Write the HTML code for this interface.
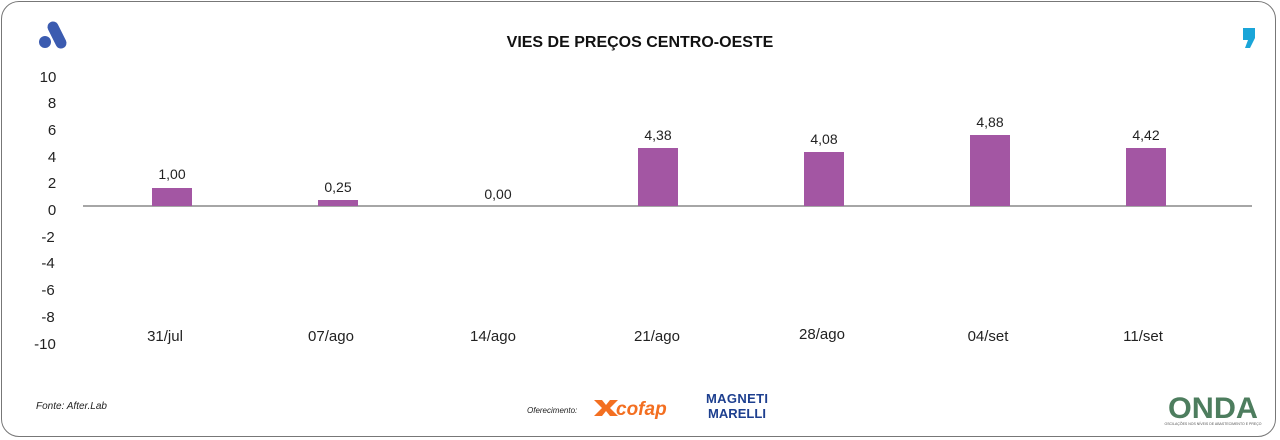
<!DOCTYPE html>
<html><head><meta charset="utf-8"><style>
html,body{margin:0;padding:0;background:#fff;width:1280px;height:440px;overflow:hidden}
.card{position:absolute;left:1px;top:1px;width:1275px;height:436px;border:1.5px solid #777;border-radius:18px;box-sizing:border-box}
svg{position:absolute;left:0;top:0}
text{font-family:"Liberation Sans",sans-serif}
</style></head><body>
<div class="card"></div>
<svg width="1280" height="440" xmlns="http://www.w3.org/2000/svg">
<circle cx="45" cy="42" r="6" fill="#3b5bb0"/>
<line x1="53" y1="27" x2="61" y2="43" stroke="#3b5bb0" stroke-width="11" stroke-linecap="round"/>
<path d="M1243 28h12v10l-5 10h-5l3-8h-5z" fill="#1aa5d8"/>
<text x="640" y="47" font-size="16" font-weight="bold" text-anchor="middle" fill="#111">VIES DE PREÇOS CENTRO-OESTE</text>
<g font-size="15" fill="#222" text-anchor="middle">
<text x="48" y="82">10</text><text x="52" y="108">8</text><text x="52" y="135">6</text><text x="52" y="162">4</text><text x="52" y="188">2</text><text x="52" y="215">0</text>
<text x="48" y="242">-2</text><text x="48" y="268">-4</text><text x="48" y="295">-6</text><text x="48" y="322">-8</text><text x="45" y="349">-10</text>
</g>
<line x1="83" y1="206" x2="1252" y2="206" stroke="#888" stroke-width="1.5"/>
<g fill="#a356a3">
<rect x="152" y="188" width="40" height="18"/>
<rect x="318" y="200" width="40" height="6"/>
<rect x="638" y="148" width="40" height="58"/>
<rect x="804" y="152" width="40" height="54"/>
<rect x="970" y="135" width="40" height="71"/>
<rect x="1126" y="148" width="40" height="58"/>
</g>
<g font-size="14" fill="#222" text-anchor="middle">
<text x="172" y="179">1,00</text><text x="338" y="192">0,25</text><text x="498" y="199">0,00</text>
<text x="658" y="140">4,38</text><text x="824" y="144">4,08</text><text x="990" y="127">4,88</text><text x="1146" y="140">4,42</text>
</g>
<g font-size="15" fill="#222" text-anchor="middle">
<text x="165" y="341">31/jul</text><text x="331" y="341">07/ago</text><text x="493" y="341">14/ago</text>
<text x="657" y="341">21/ago</text><text x="822" y="339">28/ago</text><text x="988" y="341">04/set</text><text x="1143" y="341">11/set</text>
</g>
<text x="36" y="409" font-size="10" font-style="italic" fill="#222">Fonte: After.Lab</text>
<text x="527" y="413" font-size="8" font-style="italic" fill="#222">Oferecimento:</text>
<path d="M594 400l8 0 4 5 4-5 8 0-8 8 8 8-8 0-4-5-4 5-8 0 8-8z" fill="#f36f21"/>
<text x="616" y="415" font-size="19" font-weight="bold" font-style="italic" fill="#f36f21">cofap</text>
<text x="706" y="403" font-size="13" font-weight="bold" fill="#1d3f8f" textLength="62">MAGNETI</text>
<text x="708" y="418" font-size="13" font-weight="bold" fill="#1d3f8f" textLength="58">MARELLI</text>
<text x="1168" y="418" font-size="30" font-weight="bold" fill="#4d7d5e" textLength="90" lengthAdjust="spacingAndGlyphs">ONDA</text>
<text x="1213" y="425" font-size="3.5" fill="#555" text-anchor="middle">OSCILAÇÕES NOS NÍVEIS DE ABASTECIMENTO E PREÇO</text>
</svg>
</body></html>
